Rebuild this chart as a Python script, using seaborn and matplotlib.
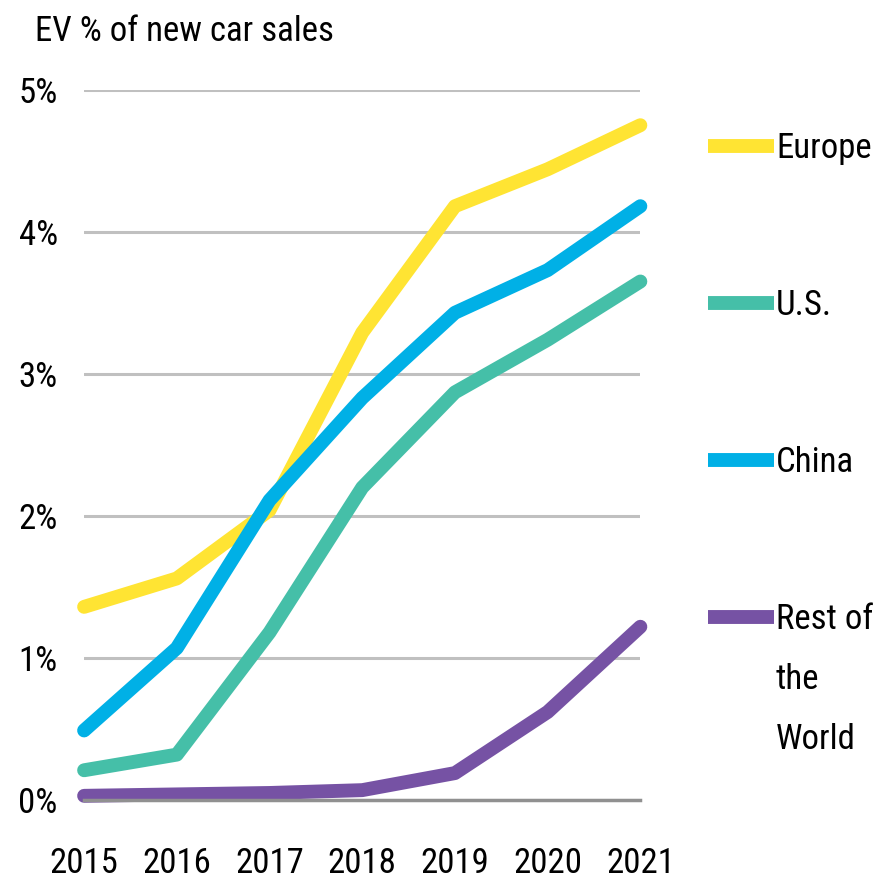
import numpy as np
import pandas as pd
import matplotlib
matplotlib.use("Agg")
import matplotlib.pyplot as plt
import seaborn as sns
from matplotlib import font_manager
from matplotlib.ticker import FuncFormatter

years = [2015, 2016, 2017, 2018, 2019, 2020, 2021]
regions = ["Europe", "U.S.", "China", "Rest of the World"]
europe = [1.36, 1.56, 2.04, 3.29, 4.18, 4.44, 4.75]
us = [0.21, 0.32, 1.18, 2.20, 2.87, 3.24, 3.65]
china = [0.49, 1.07, 2.11, 2.83, 3.43, 3.73, 4.18]
rest = [0.03, 0.04, 0.05, 0.07, 0.19, 0.62, 1.22]
colors = ["#FFE433", "#45BFA8", "#00B0E6", "#7652A4"]

df = pd.DataFrame({
    "year": years * 4,
    "share": europe + us + china + rest,
    "region": np.repeat(regions, len(years)),
})

sns.set_style("white")
names = {f.name for f in font_manager.fontManager.ttflist}
if "Roboto Condensed" in names:
    plt.rcParams["font.family"] = ["Roboto Condensed", "DejaVu Sans"]
    fs = 25
else:
    plt.rcParams["font.family"] = ["DejaVu Sans"]
    plt.rcParams["font.stretch"] = "condensed"
    fs = 22
plt.rcParams["text.color"] = "black"

fig = plt.figure(figsize=(8.76, 8.88), dpi=100)
ax = fig.add_axes([0.096, 0.099, 0.635, 0.80])

sns.lineplot(data=df, x="year", y="share", hue="region", palette=colors,
             linewidth=10, sort=False, ax=ax, solid_capstyle="round")
for ln in ax.lines:
    ln.set_clip_on(False)

ax.set_xlim(2015, 2021)
ax.set_ylim(0, 5)
ax.set_xticks(years)
ax.set_yticks([0, 1, 2, 3, 4, 5])
ax.yaxis.set_major_formatter(FuncFormatter(lambda v, p: f"{v:.0f}%"))
ax.grid(axis="y", color="#C0C0C0", linewidth=2.2)
ax.set_axisbelow(True)
ax.tick_params(axis="both", length=0, labelsize=fs, colors="black")
ax.tick_params(axis="x", pad=34)
ax.tick_params(axis="y", pad=19)
ax.set_xticks([2015, 2020], minor=True)
ax.tick_params(axis="x", which="minor", length=15, width=2, color="#909090")
ax.set_xlabel("")
ax.set_ylabel("")
for s in ["top", "right", "left"]:
    ax.spines[s].set_visible(False)
ax.spines["bottom"].set_color("#909090")
ax.spines["bottom"].set_linewidth(2.5)

fig.text(0.04, 0.965, "EV % of new car sales", fontsize=fs, va="center", ha="left")

handles = ax.lines[:4]
labels = ["Europe", "U.S.", "China", "Rest of"]
leg = ax.legend(handles, labels, loc="upper left", bbox_to_anchor=(1.097, 0.96),
                frameon=False, fontsize=fs, handlelength=1.9, handletextpad=0.05,
                labelspacing=3.57, borderaxespad=0)
for h in leg.get_lines():
    h.set_solid_capstyle("butt")

# wrap the last label onto extra lines under "Rest of"
fig.canvas.draw()
t = leg.get_texts()[-1]
bb = t.get_window_extent()
inv = fig.transFigure.inverted()
for i, word in enumerate(["the", "World"], start=1):
    x, y = inv.transform((bb.x0, (bb.y0 + bb.y1) / 2 - 60 * i))
    fig.text(x, y, word, fontsize=fs, va="center", ha="left")

fig.savefig("out.png", dpi=100)
